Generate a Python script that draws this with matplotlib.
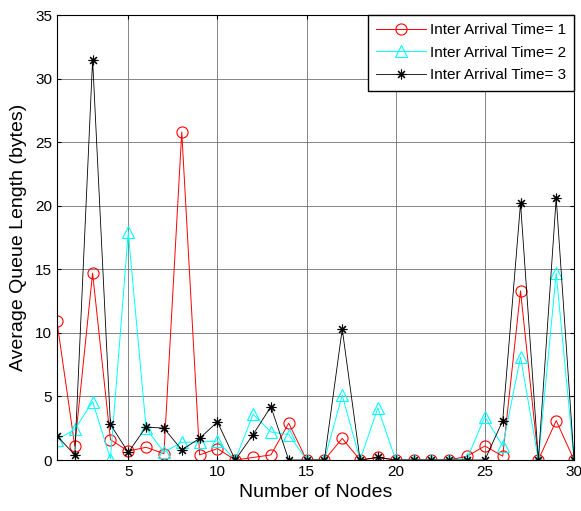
import matplotlib.pyplot as plt
import numpy as np

plt.rcParams['font.family'] = ['Liberation Sans', 'DejaVu Sans']

nodes = list(range(1, 31))
iat1 = [10.9, 1.1, 14.7, 1.6, 0.7, 1.0, 0.5, 25.8, 0.4, 0.9,
        0.0, 0.2, 0.4, 2.9, 0.0, 0.0, 1.7, 0.0, 0.2, 0.0,
        0.0, 0.0, 0.0, 0.3, 1.1, 0.3, 13.3, 0.0, 3.1, 0.0]
iat2 = [1.6, 2.4, 4.6, 0.1, 17.9, 2.5, 0.6, 1.4, 1.4, 1.5,
        0.0, 3.6, 2.2, 2.0, 0.0, 0.0, 5.1, 0.0, 4.1, 0.0,
        0.0, 0.0, 0.0, 0.1, 3.4, 1.1, 8.1, 0.0, 14.7, 0.0]
iat3 = [1.9, 0.4, 31.5, 2.8, 0.6, 2.6, 2.5, 0.8, 1.7, 3.0,
        0.0, 2.0, 4.2, 0.0, 0.0, 0.0, 10.3, 0.0, 0.2, 0.0,
        0.0, 0.0, 0.0, 0.0, 0.0, 3.1, 20.2, 0.0, 20.6, 0.0]
labels = ['Inter Arrival Time= 1', 'Inter Arrival Time= 2', 'Inter Arrival Time= 3']

fig = plt.figure(figsize=(5.81, 5.11), dpi=100)
ax = fig.add_axes([0.098, 0.0998, 0.890, 0.8708])

ax.plot(nodes, iat1, color='#ff0000', lw=0.7, marker='o', ms=8, mfc='none', mew=0.8, label=labels[0])
ax.plot(nodes, iat2, color='#00ffff', lw=0.7, marker='^', ms=8.5, mfc='none', mew=0.8, label=labels[1])
ax.plot(nodes, iat3, color='k', lw=0.6, marker=(8, 2, 0), ms=7, mew=0.8, label=labels[2])

ax.set_xlim(1, 30)
ax.set_ylim(0, 35)
ax.set_xticks([5, 10, 15, 20, 25, 30])
ax.set_yticks(np.arange(0, 36, 5))
ax.grid(True, color='#707070', lw=0.6, ls='-')
ax.tick_params(direction='in', top=True, right=True, labelsize=11, length=3)
for s in ax.spines.values():
    s.set_linewidth(0.8)

ax.set_xlabel('Number of Nodes', fontsize=14, labelpad=4)
ax.set_ylabel('Average Queue Length (bytes)', fontsize=14, labelpad=6)

leg = ax.legend(loc='upper right', fontsize=11, fancybox=False, edgecolor='k',
                borderaxespad=0, handlelength=3.3, handletextpad=0.2, borderpad=0.55,
                framealpha=1, labelspacing=0.55)
leg.get_frame().set_linewidth(1.0)

fig.savefig('out.png', dpi=100)
